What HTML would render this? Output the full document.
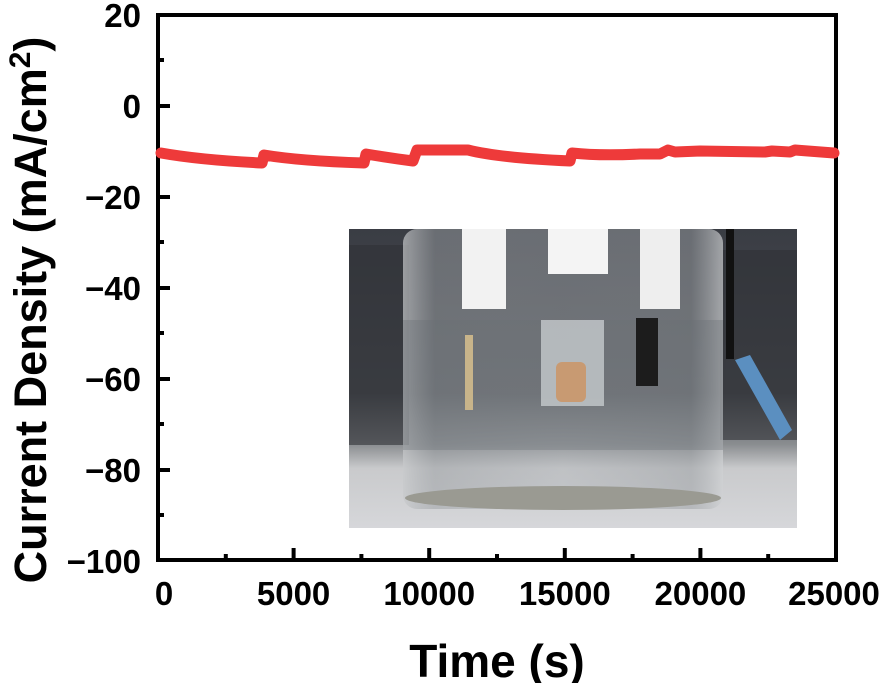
<!DOCTYPE html>
<html><head><meta charset="utf-8"><style>
body{margin:0;background:#fff;}
svg{display:block;font-family:"Liberation Sans",Arial,sans-serif;font-weight:bold;}
</style></head><body>
<svg width="886" height="683" viewBox="0 0 886 683">
<defs>
<linearGradient id="bg" x1="0" y1="0" x2="0" y2="1">
<stop offset="0" stop-color="#3a3d44"/><stop offset="0.55" stop-color="#4a4d52"/><stop offset="0.72" stop-color="#8a8d90"/><stop offset="0.8" stop-color="#c9cacc"/><stop offset="1" stop-color="#d6d7da"/>
</linearGradient>
<linearGradient id="gl" x1="0" y1="0" x2="1" y2="0">
<stop offset="0" stop-color="#c8cacc" stop-opacity="0.7"/><stop offset="0.1" stop-color="#9a9ea2" stop-opacity="0.5"/><stop offset="0.5" stop-color="#b0b4b8" stop-opacity="0.4"/><stop offset="0.9" stop-color="#9a9ea2" stop-opacity="0.5"/><stop offset="1" stop-color="#d0d2d4" stop-opacity="0.7"/>
</linearGradient>
</defs>
<g>
<rect x="349" y="229" width="448" height="299" fill="url(#bg)"/>
<rect x="349" y="245" width="60" height="200" fill="#2e3036" opacity="0.6"/>
<rect x="720" y="250" width="77" height="190" fill="#2e3036" opacity="0.6"/>
<rect x="403" y="229" width="320" height="280" rx="14" fill="url(#gl)"/>
<rect x="403" y="320" width="320" height="130" fill="#6b7076" opacity="0.35"/>
<ellipse cx="563" cy="498" rx="158" ry="12" fill="#9a9a92"/>
<rect x="462" y="229" width="44" height="80" fill="#f2f2f2"/>
<rect x="548" y="229" width="60" height="45" fill="#f4f4f4"/>
<rect x="640" y="229" width="40" height="80" fill="#eeeeee"/>
<rect x="541" y="320" width="63" height="86" fill="#c6cacd" opacity="0.8"/>
<rect x="556" y="362" width="30" height="40" rx="6" fill="#c89a72"/>
<rect x="465" y="335" width="8" height="75" fill="#c8b48a"/>
<rect x="636" y="318" width="22" height="68" fill="#1c1c1c"/>
<polygon points="735,360 750,355 792,430 780,440" fill="#5b8fc0"/>
<rect x="726" y="229" width="8" height="130" fill="#111"/>
</g>
<g stroke="#000" stroke-width="4">
<line x1="158" y1="15" x2="836" y2="15"/>
<line x1="158" y1="560" x2="836" y2="560"/>
<line x1="158" y1="13" x2="158" y2="562"/>
<line x1="836" y1="13" x2="836" y2="562"/>
<line x1="158" y1="106" x2="170" y2="106"/>
<line x1="158" y1="197" x2="170" y2="197"/>
<line x1="158" y1="288" x2="170" y2="288"/>
<line x1="158" y1="379" x2="170" y2="379"/>
<line x1="158" y1="470" x2="170" y2="470"/>
<line x1="158" y1="60" x2="164" y2="60"/>
<line x1="158" y1="151" x2="164" y2="151"/>
<line x1="158" y1="242" x2="164" y2="242"/>
<line x1="158" y1="333" x2="164" y2="333"/>
<line x1="158" y1="424" x2="164" y2="424"/>
<line x1="158" y1="515" x2="164" y2="515"/>
<line x1="293.6" y1="560" x2="293.6" y2="548"/>
<line x1="429.2" y1="560" x2="429.2" y2="548"/>
<line x1="564.8" y1="560" x2="564.8" y2="548"/>
<line x1="700.4" y1="560" x2="700.4" y2="548"/>
<line x1="225.8" y1="560" x2="225.8" y2="554"/>
<line x1="361.4" y1="560" x2="361.4" y2="554"/>
<line x1="497" y1="560" x2="497" y2="554"/>
<line x1="632.6" y1="560" x2="632.6" y2="554"/>
<line x1="768.2" y1="560" x2="768.2" y2="554"/>
</g>
<path d="M161,153 Q200,160 262,163 L264,155 Q300,161 364,163 L366,154 Q390,158 413,161 L417,150 L468,150 Q500,158 570,161 L572,153 Q600,156 640,154 L660,154 L668,150 L675,152 L700,151 L765,152 L772,151 L790,152 L795,150 L834,153" fill="none" stroke="#ee3a3a" stroke-width="11" stroke-linecap="round" stroke-linejoin="round"/>
<g font-size="33" text-anchor="end">
<text x="141" y="27">20</text>
<text x="141" y="118">0</text>
<text x="141" y="209">−20</text>
<text x="141" y="300">−40</text>
<text x="141" y="391">−60</text>
<text x="141" y="482">−80</text>
<text x="141" y="573">−100</text>
</g>
<g font-size="33" text-anchor="middle">
<text x="164" y="605">0</text>
<text x="293.6" y="605">5000</text>
<text x="429.2" y="605">10000</text>
<text x="564.8" y="605">15000</text>
<text x="700.4" y="605">20000</text>
<text x="834" y="605">25000</text>
</g>
<text x="497" y="677" font-size="46" text-anchor="middle">Time (s)</text>
<text transform="translate(46,310) rotate(-90)" font-size="45" text-anchor="middle">Current Density (mA/cm<tspan dy="-16" font-size="30">2</tspan><tspan dy="16">)</tspan></text>
</svg>
</body></html>
